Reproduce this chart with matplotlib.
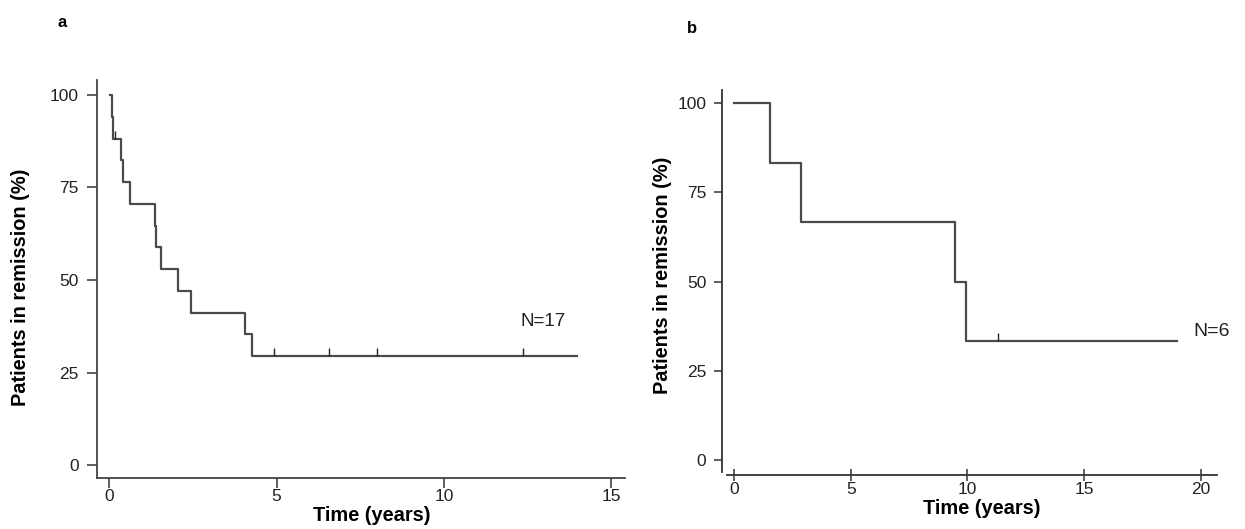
import numpy as np
import matplotlib
matplotlib.use('Agg')
import matplotlib.pyplot as plt

plt.rcParams['font.family'] = ['Liberation Sans', 'DejaVu Sans']

# panel a: remission curve, N=17
a_times = [0.02, 0.07, 0.12, 0.35, 0.42, 0.62, 1.37, 1.40, 1.55, 2.05, 2.44, 4.06, 4.26, 13.97]
a_levels = [100, 94.1, 88.2, 82.4, 76.5, 70.6, 64.7, 58.8, 52.9, 47.1, 41.2, 35.3, 29.4, 29.4]
a_cens_t = [0.17, 4.92, 6.56, 7.99, 12.36]
a_cens_y = [88.2, 29.4, 29.4, 29.4, 29.4]

# panel b: remission curve, N=6
b_times = [0, 1.54, 2.86, 9.46, 9.92, 18.97]
b_levels = [100, 83.3, 66.7, 50, 33.3, 33.3]
b_cens_t = [11.32]
b_cens_y = [33.3]

yticks = [0, 25, 50, 75, 100]
a_xticks = [0, 5, 10, 15]
b_xticks = [0, 5, 10, 15, 20]

line_col = '#4a4a4a'
tick_fs = 12.5
label_fs = 14.4

fig = plt.figure(figsize=(12.45, 5.29), dpi=100)
ax1 = fig.add_axes([0.0777, 0.0964, 0.4245, 0.7524])
ax2 = fig.add_axes([0.5797, 0.1021, 0.4018, 0.7278])

# ---- panel a
ax1.step(a_times, a_levels, where='post', color=line_col, lw=1.6)
ax1.plot(a_cens_t, a_cens_y, linestyle='none', marker=2, ms=6, mew=1.0, color='#222222')
ax1.set_xlim(-0.377, 15.42)
ax1.set_ylim(-3.51, 104.05)
ax1.set_xticks(a_xticks)
ax1.set_yticks(yticks)
for s in ['top', 'right']:
    ax1.spines[s].set_visible(False)
for s in ['left', 'bottom']:
    ax1.spines[s].set_color('#444444')
    ax1.spines[s].set_linewidth(1.3)
ax1.tick_params(axis='y', length=7, width=1.1, pad=6, labelsize=tick_fs, color='#333333', labelcolor='#222222')
ax1.tick_params(axis='x', length=7, width=1.1, pad=1, labelsize=tick_fs, color='#333333', labelcolor='#222222')
ax1.set_xlabel('Time (years)', fontsize=label_fs, fontweight='bold', va='center')
ax1.xaxis.set_label_coords(0.521, -0.095)
ax1.set_ylabel('Patients in remission (%)', fontsize=label_fs, fontweight='bold', va='center')
ax1.yaxis.set_label_coords(-0.145, 0.48)
ax1.text(12.28, 38.8, 'N=17', fontsize=13.5, ha='left', va='center', color='#222222')

# ---- panel b
ax2.step(b_times, b_levels, where='post', color=line_col, lw=1.6)
ax2.plot(b_cens_t, b_cens_y, linestyle='none', marker=2, ms=6, mew=1.0, color='#222222')
ax2.set_xlim(-0.527, 20.9)
ax2.set_ylim(-4.2, 103.7)
ax2.set_xticks(b_xticks)
ax2.set_yticks(yticks)
for s in ['top', 'right']:
    ax2.spines[s].set_visible(False)
for s in ['left', 'bottom']:
    ax2.spines[s].set_color('#333333')
    ax2.spines[s].set_linewidth(1.3)
ax2.spines['left'].set_bounds(-3.4, 103.7)
ax2.spines['bottom'].set_bounds(-0.32, 20.7)
ax2.tick_params(axis='y', length=6, width=1.1, pad=5, labelsize=tick_fs, color='#333333', labelcolor='#222222')
ax2.tick_params(axis='x', direction='inout', length=8, width=1.1, pad=1, labelsize=tick_fs, color='#333333', labelcolor='#222222')
ax2.set_xlabel('Time (years)', fontsize=label_fs, fontweight='bold', va='center')
ax2.xaxis.set_label_coords(0.52, -0.088)
ax2.set_ylabel('Patients in remission (%)', fontsize=label_fs, fontweight='bold', va='center')
ax2.yaxis.set_label_coords(-0.119, 0.519)
ax2.text(19.66, 35.9, 'N=6', fontsize=14, ha='left', va='center', color='#222222')

fig.text(0.0498, 0.958, 'a', fontsize=12, fontweight='bold', ha='center', va='center')
fig.text(0.556, 0.947, 'b', fontsize=12, fontweight='bold', ha='center', va='center')

fig.savefig('out.png', dpi=100)
